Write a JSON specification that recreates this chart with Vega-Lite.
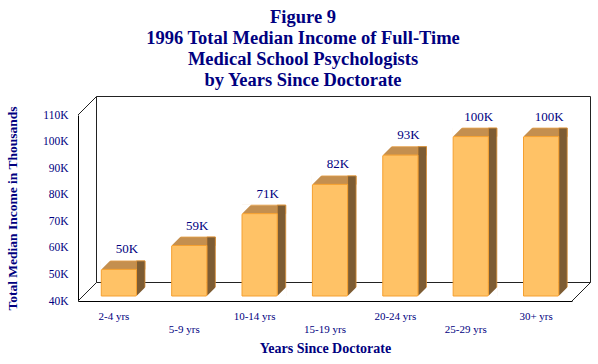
{
  "$schema": "https://vega.github.io/schema/vega-lite/v6.json",
  "width": 494,
  "height": 186,
  "autosize": {"type": "none"},
  "padding": {"left": 78, "top": 115, "right": 26, "bottom": 63},
  "background": "white",
  "config": {"view": {"stroke": null}, "font": "Liberation Serif"},
  "title": {
    "text": ["Figure 9", "1996 Total Median Income of Full-Time", "Medical School Psychologists", "by Years Since Doctorate"],
    "font": "Liberation Serif",
    "fontSize": 18.5,
    "fontWeight": "bold",
    "color": "#000080",
    "lineHeight": 21,
    "anchor": "middle",
    "dx": -22,
    "offset": 7
  },
  "data": {
    "values": [
      {"years": "2-4 yrs", "value": 50},
      {"years": "5-9 yrs", "value": 59},
      {"years": "10-14 yrs", "value": 71},
      {"years": "15-19 yrs", "value": 82},
      {"years": "20-24 yrs", "value": 93},
      {"years": "25-29 yrs", "value": 100},
      {"years": "30+ yrs", "value": 100}
    ]
  },
  "layer": [
    {
      "data": {"values": [{}]},
      "layer": [
        {
          "mark": {"type": "rect", "fill": "white", "stroke": "#222222", "strokeWidth": 1, "xOffset": 18.5, "x2Offset": 18.5, "yOffset": -18.5, "y2Offset": -18.5},
          "encoding": {
            "x": {"datum": 0, "type": "quantitative", "scale": {"domain": [0, 1], "nice": false, "zero": false}, "axis": null},
            "x2": {"datum": 1},
            "y": {"datum": 110, "type": "quantitative", "axis": null},
            "y2": {"datum": 40}
          }
        },
        {
          "mark": {"type": "rule", "color": "#222222", "strokeWidth": 1, "x2Offset": 18.5, "y2Offset": -18.5},
          "encoding": {
            "x": {"datum": 0, "type": "quantitative", "axis": null},
            "x2": {"datum": 0},
            "y": {"datum": 110, "type": "quantitative", "axis": null},
            "y2": {"datum": 110}
          }
        },
        {
          "mark": {"type": "rule", "color": "#222222", "strokeWidth": 1, "x2Offset": 18.5, "y2Offset": -18.5},
          "encoding": {
            "x": {"datum": 0, "type": "quantitative", "axis": null},
            "x2": {"datum": 0},
            "y": {"datum": 40, "type": "quantitative", "axis": null},
            "y2": {"datum": 40}
          }
        },
        {
          "mark": {"type": "rule", "color": "#222222", "strokeWidth": 1, "x2Offset": 18.5, "y2Offset": -18.5},
          "encoding": {
            "x": {"datum": 1, "type": "quantitative", "axis": null},
            "x2": {"datum": 1},
            "y": {"datum": 40, "type": "quantitative", "axis": null},
            "y2": {"datum": 40}
          }
        }
      ]
    },
    {
      "transform": [{"calculate": "datum.value + 'K'", "as": "label"}],
      "resolve": {"axis": {"x": "independent", "y": "independent"}},
      "layer": [
        {
          "mark": {"type": "bar", "width": 43.7, "xOffset": 9.25, "yOffset": -13.5, "y2Offset": -5, "fill": "#C48F4F", "stroke": "#E8A24A", "strokeWidth": 0.8},
          "encoding": {
            "x": {
              "field": "years", "type": "nominal", "sort": null,
              "scale": {"paddingInner": 0.5, "paddingOuter": 0.26},
              "axis": {
                "orient": "bottom",
                "title": "Years Since Doctorate",
                "labelAngle": 0,
                "labelOverlap": false,
                "labelExpr": "indexof(['5-9 yrs','15-19 yrs','25-29 yrs'], datum.value) >= 0 ? ['', datum.label] : datum.label",
                "labelBaseline": "top",
                "labelLineHeight": 13.5,
                "ticks": false,
                "tickSize": 0,
                "domainColor": "#000000",
                "labelFont": "Liberation Serif",
                "labelFontSize": 11,
                "labelColor": "#000080",
                "labelPadding": 9,
                "titleFont": "Liberation Serif",
                "titleFontSize": 14,
                "titleFontWeight": "bold",
                "titleColor": "#000080",
                "titlePadding": 7
              }
            },
            "y": {
              "field": "value", "type": "quantitative",
              "scale": {"domain": [40, 110], "nice": false, "zero": false},
              "axis": {
                "orient": "left",
                "title": "Total Median Income in Thousands",
                "values": [40, 50, 60, 70, 80, 90, 100, 110],
                "labelExpr": "datum.value + 'K'",
                "labelOverlap": false,
                "grid": false,
                "ticks": false,
                "tickSize": 0,
                "domainColor": "#000000",
                "labelFont": "Liberation Serif",
                "labelFontSize": 11.5,
                "labelColor": "#000080",
                "labelPadding": 10,
                "titleFont": "Liberation Serif",
                "titleFontSize": 13.5,
                "titleFontWeight": "bold",
                "titleColor": "#000080",
                "titlePadding": 23
              }
            },
            "y2": {"field": "value"}
          }
        },
        {
          "mark": {"type": "bar", "width": 8.5, "xOffset": 26.85, "yOffset": -13.5, "y2Offset": -5, "fill": "#7D5C33", "stroke": "#D9913A", "strokeWidth": 0.8},
          "encoding": {
            "x": {"field": "years", "type": "nominal", "sort": null, "axis": null},
            "y": {"field": "value", "type": "quantitative", "axis": null},
            "y2": {"datum": 40}
          }
        },
        {
          "mark": {"type": "bar", "width": 35.2, "xOffset": 5, "yOffset": -5, "y2Offset": -5, "fill": "#FFC266", "stroke": "#F5A030", "strokeWidth": 1},
          "encoding": {
            "x": {"field": "years", "type": "nominal", "sort": null, "axis": null},
            "y": {"field": "value", "type": "quantitative", "axis": null},
            "y2": {"datum": 40}
          }
        },
        {
          "mark": {"type": "point", "shape": "M-1,1L-1,-1L1,-1Z", "size": 110.25, "filled": true, "fill": "white", "opacity": 1, "strokeWidth": 0, "xOffset": -8.35, "yOffset": -9.25},
          "encoding": {
            "x": {"field": "years", "type": "nominal", "sort": null, "axis": null},
            "y": {"field": "value", "type": "quantitative", "axis": null}
          }
        },
        {
          "mark": {"type": "point", "shape": "M1,-1L1,1L-1,1Z", "size": 110.25, "filled": true, "fill": "white", "opacity": 1, "strokeWidth": 0, "xOffset": 26.85, "yOffset": -9.25},
          "encoding": {
            "x": {"field": "years", "type": "nominal", "sort": null, "axis": null},
            "y": {"datum": 40, "type": "quantitative", "axis": null}
          }
        },
        {
          "mark": {"type": "text", "font": "Liberation Serif", "fontSize": 13, "color": "#000080", "align": "center", "baseline": "alphabetic", "xOffset": 13, "yOffset": -21},
          "encoding": {
            "x": {"field": "years", "type": "nominal", "sort": null, "axis": null},
            "y": {"field": "value", "type": "quantitative", "axis": null},
            "text": {"field": "label"}
          }
        }
      ]
    }
  ],
  "resolve": {"scale": {"x": "independent"}, "axis": {"y": "independent"}}
}
